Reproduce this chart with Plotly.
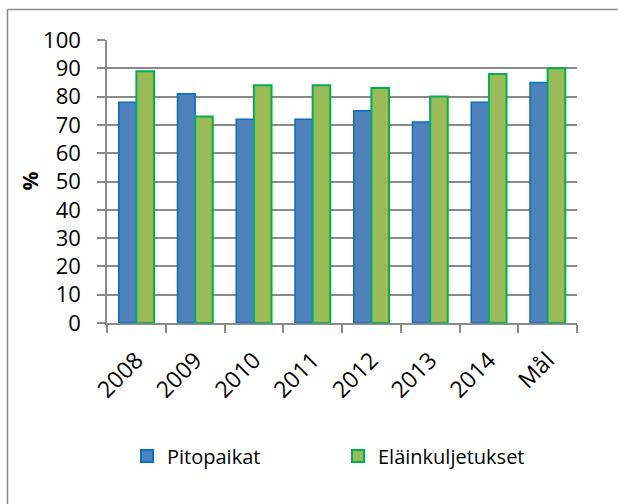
import plotly.graph_objects as go

categories = ["2008", "2009", "2010", "2011", "2012", "2013", "2014", "Mål"]
pitopaikat = [78, 81, 72, 72, 75, 71, 78, 85]
elainkuljetukset = [89, 73, 84, 84, 83, 80, 88, 90]
y_ticks = [0, 10, 20, 30, 40, 50, 60, 70, 80, 90, 100]

FONT = "Open Sans"
GRID = "#8a8a8a"
W, H = 618, 504
L, R, T, B = 107, 41, 40, 181
PW, PH = W - L - R, H - T - B

def px_x(x):
    return (x - L) / PW

def px_y(y):
    return (H - B - y) / PH

fig = go.Figure()
fig.add_trace(go.Bar(
    x=categories, y=pitopaikat, name="Pitopaikat",
    marker=dict(color="#4F81BD", line=dict(color="#0070C0", width=1.5)),
))
fig.add_trace(go.Bar(
    x=categories, y=elainkuljetukset, name="Eläinkuljetukset",
    marker=dict(color="#9BBB59", line=dict(color="#00B050", width=2)),
))

fig.update_layout(
    width=W, height=H,
    margin=dict(l=L, r=R, t=T, b=B, autoexpand=False),
    paper_bgcolor="white", plot_bgcolor="white",
    barmode="group", bargap=0.4, bargroupgap=0,
    font=dict(family=FONT, color="black"),
    showlegend=True,
    legend=dict(
        orientation="h", x=px_x(127), xanchor="left", y=px_y(456), yanchor="middle",
        font=dict(size=20, family=FONT, color="black"),
        entrywidth=166, entrywidthmode="pixels",
        itemsizing="constant",
    ),
    xaxis=dict(
        type="category", tickangle=-45, tickson="boundaries",
        ticks="outside", ticklen=8, tickcolor=GRID, tickwidth=1.5,
        showline=True, linecolor=GRID, linewidth=1.5,
        showgrid=False, tickfont=dict(size=23, family=FONT),
        ticklabelstandoff=13, automargin=False,
    ),
    yaxis=dict(
        range=[0, 100], tickvals=y_ticks,
        ticks="outside", ticklen=8, tickcolor=GRID, tickwidth=1.5,
        showline=True, linecolor=GRID, linewidth=1.5,
        showgrid=True, gridcolor=GRID, gridwidth=1.8,
        tickfont=dict(size=22, family=FONT),
        ticklabelstandoff=12, automargin=False,
        zeroline=False,
    ),
    annotations=[
        dict(text="<b>%</b>", textangle=-90, showarrow=False,
             xref="paper", yref="paper", x=px_x(29), y=0.5,
             xanchor="center", yanchor="middle",
             font=dict(size=21, family=FONT, color="black")),
    ],
    shapes=[
        dict(type="line", xref="paper", yref="paper",
             x0=px_x(7.5), x1=px_x(W + 10), y0=px_y(9.5), y1=px_y(9.5),
             line=dict(color=GRID, width=1.5)),
        dict(type="line", xref="paper", yref="paper",
             x0=px_x(7.5), x1=px_x(7.5), y0=px_y(9.5), y1=px_y(H + 10),
             line=dict(color=GRID, width=1.5)),
    ],
)

fig.write_html(
    "out.html",
    config={"displayModeBar": False},
    post_script="document.body.style.margin='0';document.body.style.overflow='hidden';",
)
